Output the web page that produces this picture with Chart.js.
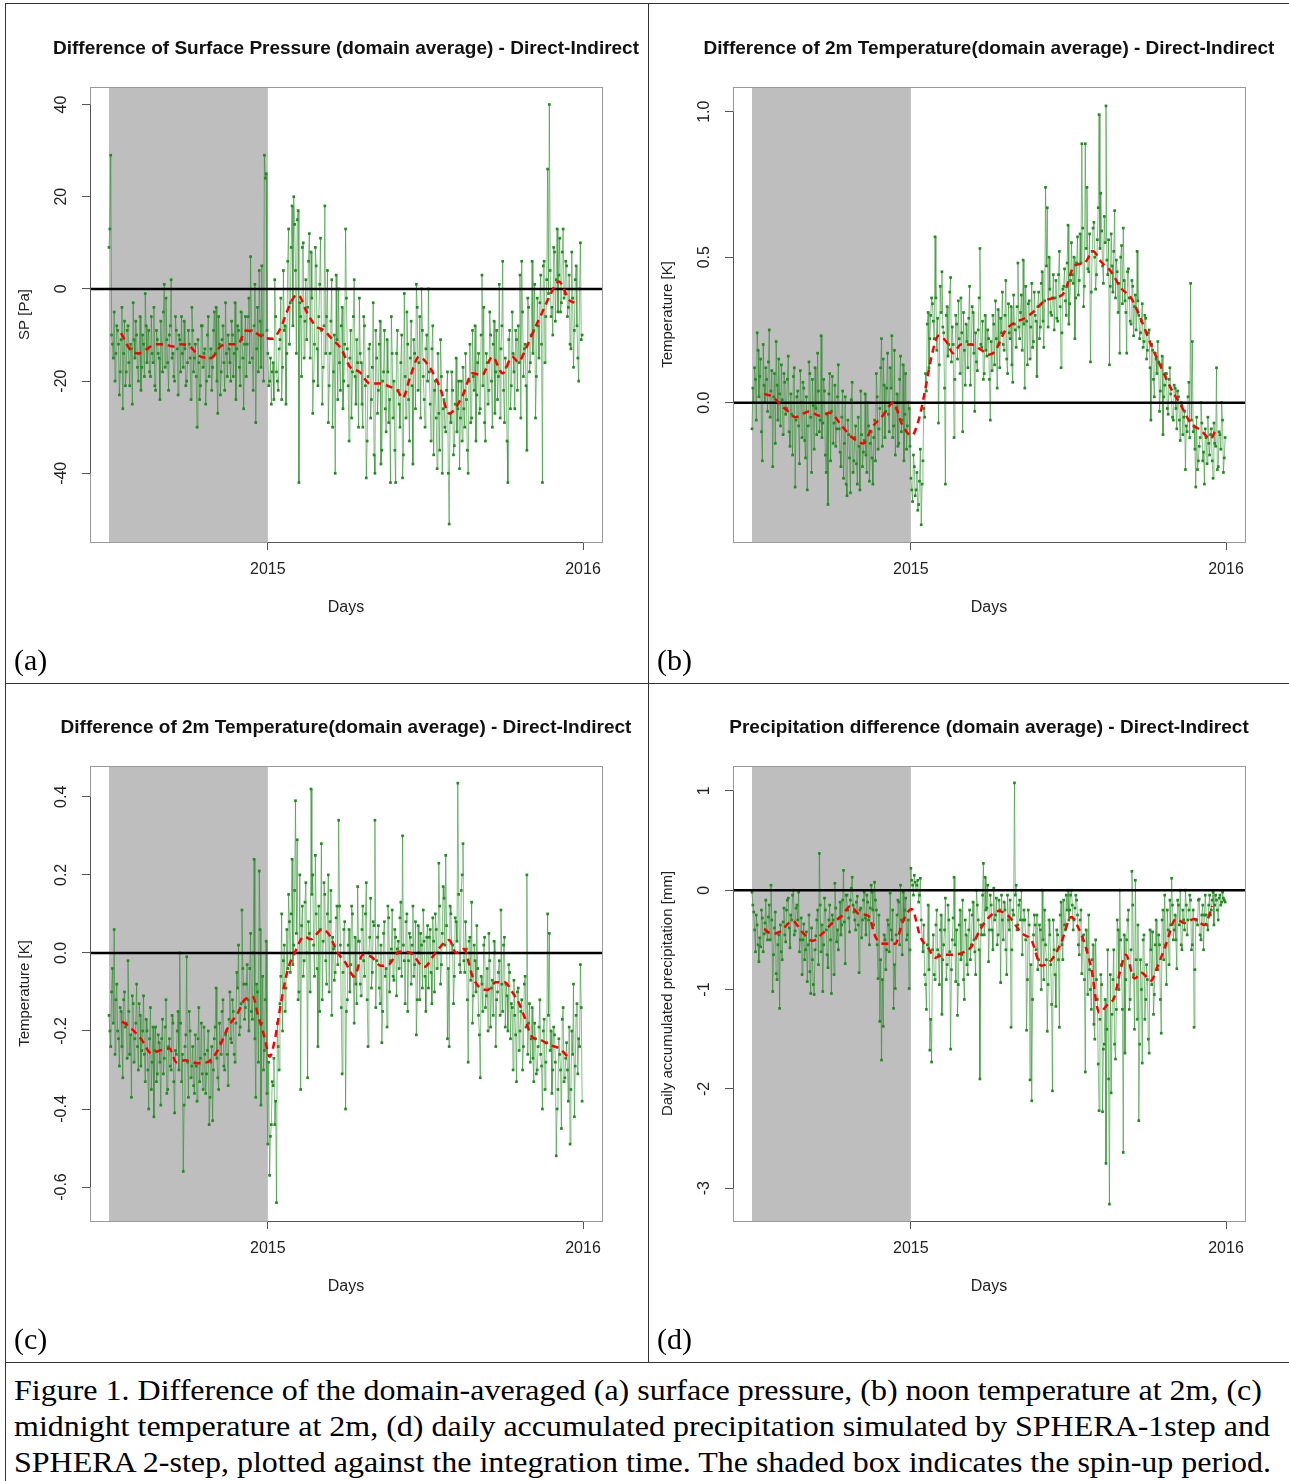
<!DOCTYPE html>
<html><head><meta charset="utf-8">
<script src="https://cdn.jsdelivr.net/npm/chart.js@4.4.1/dist/chart.umd.min.js"></script>
<style>
body{margin:0;background:#fff;width:1289px;height:1481px;position:relative;overflow:hidden;}
canvas{position:absolute;}
.ln{position:absolute;background:#333;}
.lab{position:absolute;font-family:"Liberation Serif","Times New Roman",serif;font-size:30px;line-height:36px;color:#000;white-space:nowrap;}
.cap{position:absolute;left:14px;font-family:"Liberation Serif","Times New Roman",serif;font-size:30px;line-height:36px;color:#000;white-space:nowrap;transform-origin:0 0;}
</style></head><body>
<div class="ln" style="left:5px;top:3px;width:1284px;height:1px"></div>
<div class="ln" style="left:5px;top:3px;width:1px;height:1478px"></div>
<div class="ln" style="left:648px;top:3px;width:1px;height:1359px"></div>
<div class="ln" style="left:5px;top:683px;width:1284px;height:1px"></div>
<div class="ln" style="left:5px;top:1362px;width:1284px;height:1px"></div>
<canvas id="ca" width="641" height="678" style="left:6px;top:4px"></canvas>
<canvas id="cb" width="640" height="678" style="left:649px;top:4px"></canvas>
<canvas id="cc" width="641" height="677" style="left:6px;top:684px"></canvas>
<canvas id="cd" width="640" height="677" style="left:649px;top:684px"></canvas>
<div class="lab" style="left:14px;top:642px">(a)</div>
<div class="lab" style="left:657px;top:642px">(b)</div>
<div class="lab" style="left:14px;top:1321px">(c)</div>
<div class="lab" style="left:657px;top:1321px">(d)</div>
<div class="cap" data-w="1248" style="top:1372px">Figure 1. Difference of the domain-averaged (a) surface pressure, (b) noon temperature at 2m, (c)</div>
<div class="cap" data-w="1256" style="top:1408px">midnight temperature at 2m, (d) daily accumulated precipitation simulated by SPHERA-1step and</div>
<div class="cap" data-w="1257" style="top:1444px">SPHERA 2-step, plotted against the integration time. The shaded box indicates the spin-up period.</div>
<script>
// ---------- DATA ----------
// Days are counted relative to 1 Jan 2015 (day 0). Series are daily, stored as
// even-day values (days -184, -182, ...) and odd-day values (days -183, -181, ...).
const START_DAY = -184;
const SPIN_START = -184, SPIN_END = 0;
const X_MIN = -206, X_MAX = 387;
const xTickVals = [0, 365];
const xTickLabels = ['2015', '2016'];

// (a) Surface pressure difference [Pa]
const spEven = [
 9, 29, -12, -5, -14, -9, -23, -11, -26, -7,
 -18, -8, -21, -13, -3, -15, -10, -20, -6, -17,
 -12, -1, -16, -9, -19, -14, -4, -22, -11, -15,
 -7, -18, 1, -2, -16, -10, 2, -14, -20, -9,
 -23, -11, -6, -17, -13, -20, -9, -15, -4, -18,
 -12, -30, -16, -21, -8, -14, -25, -10, -19, -13,
 -17, -5, -4, -27, -12, -18, -8, -22, -14, -10,
 -16, -7, -19, -3, -13, -9, -21, -11, -26, -6,
 -12, -2, 7, -15, -8, -29, -4, 4, -17, -10,
 29, 25, -14, -20, -25,
 -16, 2, -18, -22, -11, -24, 4, -8, -14, 13,
 -3, 18, 20, 4, 15, -42, -6, 9, -15, 2,
 -4, 12, 8, -27, -12, 5, -21, 1, -9, -17,
 18, -6, -29, -14, 2, -18, -40, -11, 0, -22,
 -4, -20, 13, -13, -33, -9, -18, 2, -25, -16,
 -2, -16, -30, -8, -41, -19, -12, -24, -3, -40,
 -15, -22, -7, -35, -18, -26, -11, -29, -42, -14,
 -20, -42, -9, -25, -16, -41, -1, -28, -12, -33,
 -7, -38, -14, 1, -22, -6, 0, -19, -30, -10,
 0, -25, -13, -36, -20, -39, -27, -11, -40, -24,
 -31, -18, -51, -29, -22, -34, -15, -26, -39, -20,
 -17, -30, -24, -40, -12, -28, -19, -8, -23, -14,
 -26, 3, -4, -33, -16, -22, -10, -30, -7, -18,
 -24, 1, -13, 6, -29, -17, -42, -9, -21, -14,
 -26, -11, -8, 3, 6, -19, -12, -35, -4, -16,
 6, -9, -28, -2, -15, 3, -42, 6, -6, 26,
 40, -6, -10, 8, 2, -5, 11, -3, 13, -1,
 5, -4, -12, 8, -17, 2, -8, -20, 10, -10
];
const spOdd = [
 13, -10, -15, -20, -8, -12, -18, -4, -14, -21,
 -9, -16, -12, -25, -11, -7, -17, -14, -22, -10,
 -19, -8, -13, -18, -6, -16, -21, -9, -14, -24,
 -12, -5, -17, -11, -22, -8, -15, -19, -6, -13,
 -10, -18, -14, -7, -21, -16, -12, -24, -9, -15,
 -19, -11, -24, -8, -17, -13, -20, -6, -15, -22,
 -9, -14, -20, -6, -23, -11, -16, -3, -19, -13,
 -20, -10, -14, -24, -8, -17, -5, -15, -12, -19,
 -6, -16, -9, -22, 1, -13, -18, -7, 5, -20,
 24, -9, -21, -15, -18,
 -24, -6, -20, -13, -2, -17, -9, -25, 6, -12,
 9, -8, 14, -14, 17, -3, -19, 10, -7, -11,
 6, -15, -2, -20, 9, -13, -6, 11, -25, -8,
 -14, 4, -21, -7, -30, -10, 3, -24, -16, -8,
 -26, -12, -2, -21, -15, -28, -6, -19, -11, -30,
 -14, -25, -6, -21, -33, -13, -28, -17, -36, -9,
 -27, -12, -38, -20, -9, -31, -18, -24, -6, -28,
 -35, -14, -22, -30, -10, -36, -19, -5, -24, -15,
 -21, -11, -26, -4, -16, -28, -9, -24, -13, -20,
 -18, -33, -8, -22, -28, -14, -35, -19, -26, -30,
 -22, -40, -27, -18, -36, -25, -31, -20, -28, -33,
 -26, -14, -35, -20, -29, -9, -22, -33, -16, -27,
 -10, -21, -29, -14, -25, -5, -20, -12, -27, -9,
 -19, -28, -8, -22, -15, -33, -11, -26, -5, -18,
 -9, -22, -16, -28, -5, -13, -21, -2, -18, -10,
 -14, 1, -19, -8, -3, -12, 5, -16, 2, -1,
 4, -4, 9, -7, 13, 3, -5, 8, -2, 6,
 -6, 3, -13, -2, -9, 5, -15, 0, -11
];
const spTrendDays = [-170,-160,-150,-140,-130,-120,-110,-100,-90,-80,-66,-55,-45,-35,-25,-15,-5,5,15,22,30,35,45,55,65,75,85,95,106,118,130,141,150,156,165,175,187,199,210,225,237,248,260,272,283,290,299,310,318,326,337,349,355];
const spTrend = [-9.6,-13,-14,-13,-12,-12,-12.5,-12,-12.5,-14.5,-15,-12.5,-12,-12,-9,-9.5,-10.5,-10.8,-8.4,-5,-1.8,-1.3,-5,-8,-9,-11,-13,-16.9,-18,-20.5,-20.5,-21.2,-22,-23.7,-19,-14.7,-16.9,-21.2,-27,-23.4,-18.3,-18.7,-14.7,-18.3,-14.7,-15.8,-12.9,-8.2,-5,-1.7,1.6,-2.4,-3];

// (b) Noon 2m temperature difference [K]
const t2NoonEven = [
 -0.09, 0.0, 0.08, 0.24, 0.02, 0.15, -0.2, 0.06, 0.12, -0.03,
 0.25, 0.04, -0.22, 0.1, 0.21, -0.06, 0.03, 0.13, -0.11, 0.07,
 -0.02, 0.16, -0.15, -0.04, 0.09, -0.29, 0.02, -0.08, 0.11, -0.12,
 0.05, -0.19, -0.3, 0.14, -0.05, 0.08, -0.16, -0.02, 0.17, -0.1,
 0.23, -0.07, 0.04, -0.24, -0.35, 0.1, -0.03, -0.14, 0.06, -0.09,
 0.13, -0.17, -0.05, -0.26, 0.02, -0.32, -0.11, -0.31, 0.07, -0.2,
 -0.08, -0.28, -0.15, 0.04, -0.22, -0.13, -0.18, 0.0, -0.27, -0.1,
 -0.28, -0.06, 0.1, -0.16, -0.02, 0.22, 0.15, -0.12, 0.05, -0.04,
 0.12, 0.23, -0.08, -0.18, 0.03, -0.14, 0.16, -0.06, -0.2, 0.1,
 -0.08, -0.02, -0.26, -0.34, -0.22,
 -0.3, -0.37, -0.27, -0.42, -0.2, -0.05, 0.04, 0.31, 0.22, 0.36,
 0.28, 0.57, 0.18, -0.07, 0.4, 0.45, 0.24, -0.28, 0.33, 0.2,
 0.43, 0.26, -0.12, 0.3, 0.15, 0.22, 0.36, -0.1, 0.18, 0.27,
 0.12, 0.4, 0.2, 0.31, -0.03, 0.14, 0.25, 0.53, 0.19, 0.08,
 0.3, 0.16, 0.22, -0.06, 0.11, 0.27, 0.35, 0.05, 0.2, 0.29,
 0.38, 0.18, 0.42, 0.1, 0.24, 0.33, 0.07, 0.27, 0.19, 0.48,
 0.22, 0.37, 0.49, 0.05, 0.28, 0.34, 0.15, 0.41, 0.21, 0.3,
 0.09, 0.38, 0.26, 0.45, 0.19, 0.74, 0.67, 0.5, 0.31, 0.36,
 0.25, 0.42, 0.28, 0.52, 0.12, 0.39, 0.46, 0.3, 0.61, 0.34,
 0.55, 0.41, 0.22, 0.48, 0.37, 0.58, 0.89, 0.33, 0.89, 0.74,
 0.45, 0.14, 0.52, 0.62, 0.39, 0.56, 0.99, 0.72, 0.47, 0.64,
 1.02, 0.44, 0.13, 0.58, 0.38, 0.66, 0.49, 0.31, 0.17, 0.54,
 0.6, 0.35, 0.17, 0.46, 0.28, 0.42, 0.23, 0.37, 0.52, 0.3,
 0.24, 0.34, 0.21, 0.29, 0.18, 0.25, -0.06, 0.18, 0.02, 0.15,
 0.21, -0.03, 0.13, -0.11, 0.06, 0.1, -0.04, 0.12, 0.0, -0.06,
 0.05, -0.09, 0.02, -0.13, -0.01, -0.05, -0.23, -0.1, 0.07, 0.41,
 0.21, -0.08, -0.29, -0.23, -0.15, 0.0, -0.2, -0.28, -0.12, -0.05,
 -0.18, -0.09, -0.26, -0.14, 0.12, -0.22, -0.11, 0.0, -0.24, -0.12
];
const t2NoonOdd = [
 0.05, 0.12, -0.06, 0.18, 0.09, -0.1, 0.2, 0.0, 0.08, 0.14,
 -0.05, 0.11, 0.02, -0.14, 0.06, 0.15, -0.08, 0.01, 0.1, -0.04,
 0.08, -0.1, 0.03, -0.18, 0.12, -0.06, 0.04, -0.21, 0.0, 0.07,
 -0.13, 0.02, -0.08, 0.1, -0.24, -0.01, 0.12, -0.11, 0.04, -0.06,
 -0.12, 0.08, -0.18, -0.04, 0.03, -0.2, 0.09, -0.07, -0.15, 0.02,
 -0.09, -0.22, 0.04, -0.14, -0.28, -0.06, -0.19, 0.01, -0.24, -0.12,
 -0.21, -0.05, -0.3, -0.11, -0.17, 0.03, -0.24, -0.08, -0.14, -0.19,
 -0.12, -0.2, 0.02, -0.09, 0.12, -0.15, 0.06, -0.03, 0.17, -0.1,
 0.05, -0.12, 0.18, -0.02, -0.15, 0.08, -0.1, 0.13, -0.04, -0.16,
 0.0, -0.15, -0.3, -0.18, -0.32,
 -0.24, -0.35, -0.16, -0.28, -0.02, 0.1, 0.27, 0.12, 0.3, 0.34,
 0.22, 0.36, 0.29, 0.13, 0.31, 0.26, 0.05, 0.3, 0.16, 0.38,
 0.14, 0.2, 0.08, 0.27, 0.35, 0.1, 0.24, 0.31, 0.06, 0.21,
 0.29, 0.06, 0.33, 0.17, 0.24, 0.11, 0.36, 0.2, 0.28, 0.1,
 0.18, 0.25, 0.08, 0.21, 0.3, 0.13, 0.22, 0.32, 0.12, 0.24,
 0.2, 0.3, 0.15, 0.34, 0.22, 0.13, 0.37, 0.25, 0.33, 0.26,
 0.31, 0.18, 0.27, 0.4, 0.13, 0.35, 0.26, 0.19, 0.38, 0.28,
 0.33, 0.22, 0.41, 0.28, 0.35, 0.47, 0.26, 0.39, 0.3, 0.44,
 0.36, 0.29, 0.44, 0.33, 0.24, 0.4, 0.35, 0.48, 0.27, 0.42,
 0.44, 0.5, 0.36, 0.57, 0.42, 0.48, 0.6, 0.4, 0.53, 0.46,
 0.58, 0.38, 0.6, 0.5, 0.44, 0.67, 0.53, 0.59, 0.41, 0.55,
 0.49, 0.56, 0.4, 0.47, 0.52, 0.36, 0.45, 0.41, 0.5, 0.34,
 0.42, 0.31, 0.45, 0.36, 0.27, 0.4, 0.33, 0.25, 0.35, 0.22,
 0.28, 0.19, 0.3, 0.15, 0.24, 0.12, 0.2, 0.08, 0.17, 0.1,
 0.14, 0.04, 0.16, 0.02, 0.1, -0.02, 0.08, 0.03, -0.05, 0.06,
 -0.02, 0.04, -0.06, 0.0, -0.11, -0.03, -0.08, 0.02, -0.12, -0.06,
 -0.1, -0.16, -0.05, -0.2, -0.12, -0.07, -0.17, -0.09, -0.21, -0.14,
 -0.11, -0.2, -0.07, -0.15, -0.23, -0.1, -0.16, -0.06, -0.19
];
const t2NoonTrendDays = [-170,-160,-150,-142,-134,-118,-106,-94,-80,-68,-55,-45,-34,-20,-11,1,9,17,24,32,41,49,58,70,82,90,97,109,120,132,143,155,166,178,189,201,211,220,232,243,255,266,278,290,301,313,324,336,347,352];
const t2NoonTrend = [0.03,0.02,-0.01,-0.03,-0.05,-0.03,-0.045,-0.035,-0.08,-0.12,-0.14,-0.085,-0.05,0.0,-0.07,-0.113,-0.06,0.05,0.16,0.23,0.21,0.17,0.2,0.2,0.18,0.165,0.175,0.246,0.275,0.29,0.315,0.35,0.36,0.38,0.47,0.48,0.52,0.485,0.45,0.395,0.36,0.29,0.2,0.12,0.05,-0.01,-0.07,-0.095,-0.125,-0.1];

// (c) Midnight 2m temperature difference [K]
const t2MidEven = [
 -0.16, -0.24, -0.04, 0.06, -0.12, -0.2, -0.29, -0.15, -0.32, -0.1,
 -0.18, -0.02, -0.26, -0.37, -0.13, -0.22, -0.08, -0.3, -0.16, -0.25,
 -0.11, -0.33, -0.2, -0.4, -0.14, -0.28, -0.42, -0.19, -0.31, -0.23,
 -0.39, -0.17, -0.27, -0.12, -0.35, -0.22, -0.3, -0.18, -0.41, -0.26,
 -0.15, 0.0, -0.33, -0.56, -0.24, -0.01, -0.37, -0.2, -0.29, -0.34,
 -0.21, -0.38, -0.14, -0.27, -0.31, -0.19, -0.36, -0.25, -0.44, -0.28,
 -0.43, -0.22, -0.09, -0.32, -0.18, -0.26, -0.12, -0.3, -0.2, -0.34,
 -0.1, -0.23, -0.15, -0.28, -0.05, 0.02, -0.19, 0.11, -0.08, -0.14,
 -0.03, -0.2, 0.05, -0.17, 0.24, -0.37, -0.1, 0.21, -0.39, -0.06,
 -0.25, 0.03, -0.49, -0.57, -0.44,
 -0.34, -0.44, -0.64, -0.24, -0.13, 0.1, -0.02, -0.15, 0.06, 0.15,
 -0.05, 0.24, 0.02, 0.39, 0.29, -0.1, -0.35, 0.12, -0.02, 0.18,
 -0.32, 0.05, 0.42, 0.2, -0.06, 0.1, -0.24, -0.15, 0.28, 0.03,
 0.15, -0.08, 0.2, 0.08, -0.16, 0.01, -0.05, 0.12, 0.34, 0.02,
 -0.31, 0.06, -0.4, -0.12, 0.06, -0.03, 0.1, -0.18, -0.08, 0.17,
 0.03, -0.11, 0.12, -0.06, 0.18, -0.24, 0.04, -0.09, 0.08, 0.34,
 -0.02, 0.07, -0.13, -0.23, 0.05, -0.06, -0.19, 0.09, -0.02, 0.11,
 -0.07, 0.04, 0.01, -0.04, 0.13, 0.3, -0.02, 0.08, -0.15, 0.05,
 -0.08, 0.12, -0.03, -0.21, 0.07, -0.12, 0.02, 0.11, -0.06, 0.04,
 -0.09, 0.06, -0.13, 0.03, 0.1, -0.04, 0.23, -0.08, 0.05, 0.14,
 0.25, -0.22, -0.24, 0.1, 0.02, -0.06, 0.08, 0.435, -0.03, 0.16,
 0.28, -0.05, 0.01, -0.28, 0.04, 0.13, -0.11, -0.02, 0.07, -0.16,
 -0.32, -0.08, 0.02, -0.14, -0.04, 0.05, -0.19, -0.07, 0.03, -0.24,
 -0.1, -0.02, 0.11, -0.15, 0.04, -0.08, -0.2, -0.05, -0.13, -0.3,
 -0.16, -0.33, -0.09, -0.2, -0.12, -0.24, -0.06, 0.2, -0.18, -0.28,
 -0.14, -0.33, -0.22, -0.3, -0.19, -0.26, -0.4, -0.17, -0.28, 0.1,
 0.05, -0.2, -0.3, -0.21, -0.52, -0.35, -0.26, -0.45, -0.14, -0.32,
 -0.23, -0.38, -0.49, -0.2, -0.08, -0.29, -0.13, -0.22, -0.03, -0.38
];
const t2MidOdd = [
 -0.2, -0.1, -0.18, -0.26, -0.08, -0.22, -0.14, -0.24, -0.12, -0.19,
 -0.27, -0.15, -0.21, -0.11, -0.28, -0.18, -0.24, -0.13, -0.29, -0.2,
 -0.26, -0.17, -0.3, -0.22, -0.35, -0.19, -0.25, -0.33, -0.21, -0.28,
 -0.22, -0.31, -0.19, -0.36, -0.24, -0.29, -0.16, -0.33, -0.25, -0.2,
 -0.3, -0.18, -0.26, -0.39, -0.21, -0.28, -0.15, -0.32, -0.24, -0.36,
 -0.29, -0.22, -0.33, -0.18, -0.35, -0.26, -0.31, -0.2, -0.37, -0.24,
 -0.3, -0.19, -0.27, -0.35, -0.23, -0.15, -0.29, -0.21, -0.26, -0.17,
 -0.22, -0.12, -0.26, -0.18, -0.09, -0.21, -0.13, -0.04, -0.17, -0.08,
 -0.12, -0.04, -0.15, 0.0, -0.22, -0.08, -0.28, 0.06, -0.18, -0.3,
 -0.12, -0.36, -0.28, -0.47, -0.33,
 -0.27, -0.38, -0.18, -0.3, -0.06, -0.2, 0.02, -0.09, -0.04, 0.08,
 0.1, -0.03, 0.16, 0.05, -0.12, 0.2, 0.07, -0.06, 0.13, 0.0,
 0.08, -0.1, 0.15, 0.02, 0.25, -0.04, 0.12, 0.06, -0.12, 0.18,
 -0.02, 0.1, -0.1, 0.16, 0.04, -0.07, 0.09, -0.03, 0.12, -0.14,
 -0.05, 0.08, -0.15, 0.02, -0.1, 0.12, -0.06, 0.04, -0.13, 0.03,
 -0.08, 0.06, -0.02, 0.1, -0.12, 0.0, 0.14, -0.05, 0.07, -0.14,
 0.04, -0.09, 0.02, -0.15, 0.08, -0.04, 0.12, -0.1, 0.01, -0.06,
 0.06, -0.11, 0.03, 0.09, -0.06, 0.02, -0.13, 0.1, -0.02, 0.04,
 0.02, -0.06, 0.08, -0.12, 0.0, 0.05, -0.09, 0.03, -0.15, 0.07,
 0.04, -0.05, 0.09, -0.1, 0.06, 0.0, 0.12, -0.03, 0.17, 0.02,
 0.07, -0.04, 0.12, 0.0, -0.13, 0.09, 0.03, 0.15, -0.05, 0.2,
 -0.02, 0.08, -0.12, 0.03, -0.07, -0.18, 0.02, -0.1, -0.04, -0.21,
 -0.06, -0.15, 0.04, -0.11, -0.2, -0.02, -0.09, -0.16, 0.0, -0.12,
 -0.05, -0.16, -0.08, 0.02, -0.19, -0.11, -0.03, -0.22, -0.14, -0.07,
 -0.21, -0.1, -0.25, -0.15, -0.3, -0.08, -0.19, -0.26, -0.13, -0.22,
 -0.27, -0.18, -0.31, -0.24, -0.12, -0.29, -0.2, -0.35, -0.23, -0.16,
 -0.25, -0.36, -0.19, -0.28, -0.4, -0.22, -0.3, -0.17, -0.33, -0.27,
 -0.3, -0.19, -0.35, -0.26, -0.42, -0.16, -0.31, -0.24, -0.14
];
const t2MidTrendDays = [-169,-160,-146,-135,-125,-114,-106,-96,-81,-70,-58,-46,-35,-27,-17,-12,-4,2,8,15,23,31,42,50,62,70,81,90,100,110,120,131,140,152,165,181,194,210,218,227,237,244,254,264,274,283,291,297,306,316,326,337,349];
const t2MidTrend = [-0.176,-0.19,-0.223,-0.257,-0.25,-0.245,-0.28,-0.275,-0.283,-0.28,-0.25,-0.19,-0.155,-0.12,-0.113,-0.155,-0.215,-0.266,-0.223,-0.13,-0.044,0.0,0.042,0.035,0.059,0.05,0.0,-0.025,-0.06,-0.005,-0.01,-0.033,-0.03,0.003,0.0,-0.036,0.0,0.033,0.0,0.01,-0.06,-0.086,-0.095,-0.075,-0.075,-0.1,-0.13,-0.163,-0.215,-0.223,-0.236,-0.244,-0.27];

// (d) Daily accumulated precipitation difference [mm]
const precipEven = [
 -0.02, -0.22, -0.62, -0.35, -0.72, -0.57, -0.28, -0.44, -0.1, -0.5,
 -0.15, 0.05, -1.02, -0.38, -0.84, -0.55, -1.19, -0.62, -0.32, -0.45,
 -0.2, -0.08, -0.58, -0.3, 0.0, -0.41, -0.15, -0.02, -0.5, -0.85,
 -0.34, -0.6, -0.92, -0.25, -1.04, -0.7, -1.05, -0.46, -0.2, 0.37,
 -0.62, -1.02, -0.08, -0.4, -0.78, -0.15, -1.04, -0.3, 0.07, -0.52,
 -0.6, -0.12, -0.35, 0.2, -0.74, -0.05, -0.28, -0.1, 0.13, -0.22,
 -0.4, -0.06, -0.83, -0.18, -0.3, -0.02, -0.45, -0.12, -0.55, 0.05,
 -0.2, 0.08, -0.2, -0.89, -1.32, -1.71, -1.37, -0.5, -0.6, -0.35,
 -0.03, -0.5, -1.19, -0.99, -0.25, -0.12, 0.05, -0.65, -0.3, -0.08,
 -0.45, -0.99, 0.22, 0.05, 0.15,
 0.0, 0.1, -0.05, -0.3, -0.62, -0.85, -1.2, -0.15, -1.61, -1.73,
 -0.45, -0.9, -0.2, -0.65, -0.4, -1.25, -0.55, -0.08, -0.75, -0.3,
 -1.6, -0.5, 0.13, -0.92, -1.26, -0.35, -0.7, -0.1, -1.1, -0.45,
 -0.85, -0.2, -0.55, -0.12, -0.62, 0.0, -0.3, -1.9, -0.45, 0.27,
 0.13, -0.18, -0.72, -0.05, -0.4, 0.02, -0.25, -0.55, -0.1, -0.93,
 -0.3, -0.12, -0.6, -0.05, -0.4, -1.38, -0.2, 1.08, 0.05, -0.35,
 -0.1, 0.0, -0.3, -0.3, -1.41, -0.2, -1.91, -2.12, -0.45, -0.35,
 -0.25, -0.7, -0.4, 0.0, -0.9, -0.55, -1.42, -0.3, -0.75, -2.02,
 -0.6, -1.17, -0.45, -1.38, -0.12, -0.7, -0.35, -0.05, 0.0, -0.2,
 0.0, -0.4, -0.18, -0.1, -0.55, -0.3, -0.84, -0.45, -1.83, -0.6,
 -0.25, -1.0, -0.7, -1.35, -0.5, -1.1, -2.22, -0.85, -2.23, -1.55,
 -2.75, -0.6, -3.16, -2.04, -0.9, -1.55, -1.2, -0.4, 0.0, -0.75,
 -2.64, -1.64, -0.5, -0.2, -1.1, 0.19, -0.85, 0.1, -1.3, -2.32,
 -0.7, -1.74, -0.45, -1.1, -0.9, -1.64, -0.6, -0.42, -1.05, -0.3,
 -0.8, -0.55, -1.44, -0.2, -0.05, -0.95, -0.4, -0.1, 0.12, -0.5,
 -0.25, -0.79, -0.15, 0.0, -0.6, -0.3, 0.0, -0.45, -0.2, -0.1,
 -0.55, -1.38, -0.3, -0.35, -0.09, -0.5, -0.15, -0.25, -0.25, -0.4,
 -0.05, -0.2, -0.02, -0.15, -0.1, -0.3, -0.05, -0.12, -0.08, -0.12
];
const precipOdd = [
 -0.15, -0.4, -0.25, -0.55, -0.48, -0.2, -0.62, -0.33, -0.42, -0.27,
 -0.5, -0.3, -0.65, -0.22, -0.9, -0.45, -0.35, -0.7, -0.18, -0.52,
 -0.1, -0.38, -0.25, -0.05, -0.45, -0.18, -0.3, -0.62, -0.28, -0.5,
 -0.7, -0.42, -0.55, -0.82, -0.38, -0.95, -0.6, -0.3, -0.75, -0.15,
 -0.35, -0.55, -0.2, -0.65, -0.3, -0.5, -0.25, -0.85, -0.18, -0.4,
 -0.28, -0.45, -0.1, -0.32, -0.05, -0.2, -0.42, 0.02, -0.15, -0.3,
 -0.12, -0.35, -0.2, -0.48, -0.1, -0.28, -0.05, -0.3, -0.18, -0.02,
 -0.35, -0.1, -0.55, -0.25, -0.7, -0.9, -0.45, -0.8, -0.3, -0.62,
 -0.4, -0.2, -0.75, -0.45, -0.1, -0.55, -0.3, -0.02, -0.2, -0.5,
 -0.3, -0.6, 0.1, -0.05, 0.08,
 0.05, -0.12, 0.12, -0.5, -0.35, -0.95, -0.55, -0.8, -1.3, -0.6,
 -0.85, -0.35, -0.6, -0.95, -0.25, -0.7, -0.4, -0.9, -0.15, -0.62,
 -0.8, -0.28, -0.55, -0.4, -0.95, -0.2, -0.65, -0.9, -0.3, -0.75,
 -0.4, -0.7, -0.25, -0.5, -0.85, -0.15, -0.6, -0.35, -0.05, -0.45,
 -0.2, 0.05, -0.4, -0.15, -0.6, -0.3, -0.08, -0.45, -0.2, -0.05,
 -0.5, -0.2, -0.85, -0.3, -0.1, -0.6, -0.25, -0.05, -0.4, -0.15,
 -0.3, -0.65, -0.2, -0.5, -0.9, -0.35, -0.75, -1.1, -0.25, -0.6,
 -0.8, -0.35, -1.0, -0.5, -0.2, -0.7, -0.95, -0.45, -1.15, -0.3,
 -0.85, -0.4, -0.7, -0.25, -0.55, -0.1, -0.4, -0.2, -0.3, -0.05,
 -0.15, -0.3, -0.05, -0.25, -0.65, -0.2, -0.5, -0.9, -0.4, -1.05,
 -0.8, -1.2, -0.55, -1.5, -0.9, -1.75, -1.3, -0.95, -1.6, -1.1,
 -1.4, -1.9, -0.85, -1.25, -0.6, -1.7, -0.3, -1.0, -0.5, -1.2,
 -0.45, -0.9, -0.3, -1.2, -0.6, -0.15, -1.4, -0.7, -0.35, -1.55,
 -1.0, -0.5, -1.3, -0.75, -1.5, -0.4, -0.95, -1.25, -0.55, -0.8,
 -0.45, -1.1, -0.3, -0.7, -0.55, -0.2, -0.75, -0.35, -0.15, -0.4,
 -0.5, -0.1, -0.35, -0.55, -0.2, -0.4, -0.15, -0.3, -0.05, -0.6,
 -0.2, -0.8, -0.3, -0.1, -0.45, -0.25, -0.6, -0.05, -0.35, -0.15,
 -0.25, -0.1, -0.35, -0.05, -0.2, -0.08, -0.15, -0.02, -0.1
];
const precipTrendDays = [-170,-161,-152,-137,-126,-114,-103,-91,-80,-70,-60,-49,-41,-30,-18,-10,1,11,20,28,38,49,62,70,80,85,92,101,113,128,140,151,163,174,186,193,201,209,218,228,236,243,249,259,267,278,286,295,307,317,328,340,349];
const precipTrend = [-0.39,-0.44,-0.42,-0.31,-0.42,-0.51,-0.44,-0.33,-0.26,-0.16,-0.24,-0.26,-0.47,-0.54,-0.54,-0.33,-0.19,-0.47,-0.58,-0.68,-0.65,-0.65,-0.62,-0.57,-0.4,-0.33,-0.26,-0.21,-0.26,-0.43,-0.51,-0.76,-0.7,-0.53,-0.27,-0.36,-0.53,-0.79,-1.23,-1.15,-1.07,-0.79,-0.65,-0.89,-0.83,-0.91,-0.76,-0.56,-0.29,-0.33,-0.29,-0.35,-0.16];

// ---------- CHART ----------
const FONT = '"Liberation Sans", Arial, Helvetica, sans-serif';

// merge even-day and odd-day readings into one daily series, in day order
function dailyPoints(even, odd) {
  const pts = [];
  even.forEach((v, i) => {
    pts.push({x: START_DAY + 2 * i, y: v});
    if (i < odd.length) pts.push({x: START_DAY + 2 * i + 1, y: odd[i]});
  });
  return pts;
}

function yPad(labels) {
  const c = document.createElement('canvas').getContext('2d');
  c.font = '16px ' + FONT;
  const w = Math.max(...labels.map(l => c.measureText(l).width));
  return 20 - w / 2;
}

const rStyle = {
  id: 'rStyle',
  afterLayout(chart) {
    const ca = chart.chartArea, tb = chart.titleBlock;
    if (tb) { const cx = (ca.left + ca.right) / 2; tb.left = cx - 330; tb.right = cx + 330; tb.width = 660; }
  },
  beforeDatasetsDraw(chart) {
    const {ctx, chartArea: ca, scales: {x}} = chart;
    ctx.save();
    ctx.fillStyle = '#bebebe';
    const x0 = x.getPixelForValue(SPIN_START), x1 = x.getPixelForValue(SPIN_END);
    ctx.fillRect(x0, ca.top, x1 - x0, ca.bottom - ca.top);
    ctx.restore();
  },
  afterDatasetsDraw(chart) {
    const {ctx, chartArea: ca, scales: {x, y}} = chart;
    ctx.save();
    ctx.strokeStyle = '#9a9a9a'; ctx.lineWidth = 1;
    ctx.strokeRect(Math.round(ca.left) + 0.5, Math.round(ca.top) + 0.5, Math.round(ca.right - ca.left), Math.round(ca.bottom - ca.top));
    ctx.strokeStyle = '#555';
    const yt = y.ticks.map(t => y.getPixelForValue(t.value));
    ctx.beginPath();
    ctx.moveTo(Math.round(ca.left) + 0.5, Math.min(...yt)); ctx.lineTo(Math.round(ca.left) + 0.5, Math.max(...yt));
    const xt = x.ticks.map(t => x.getPixelForValue(t.value));
    ctx.moveTo(Math.min(...xt), Math.round(ca.bottom) + 0.5); ctx.lineTo(Math.max(...xt), Math.round(ca.bottom) + 0.5);
    ctx.stroke();
    ctx.restore();
  }
};

function makeChart(id, cfg) {
  const canvas = document.getElementById(id);
  const W = canvas.width, H = canvas.height;
  const top = cfg.plotTop, bottom = cfg.plotBottom;
  new Chart(canvas, {
    type: 'line',
    data: {
      datasets: [
        { data: cfg.trendDays.map((d, i) => ({x: d, y: cfg.trend[i]})), borderColor: '#ff0000', borderWidth: 2.5,
          borderDash: [7, 5], pointRadius: 0, cubicInterpolationMode: 'monotone', fill: false },
        { data: [{x: X_MIN, y: 0}, {x: X_MAX, y: 0}], borderColor: '#000', borderWidth: 2.5, pointRadius: 0, fill: false },
        { data: dailyPoints(cfg.even, cfg.odd), borderColor: 'rgba(34,139,34,0.55)', borderWidth: 1,
          pointStyle: 'rect', pointRadius: 1.9, pointBackgroundColor: '#228b22', pointBorderWidth: 0, tension: 0, fill: false }
      ]
    },
    options: {
      responsive: false, animation: false, devicePixelRatio: 1, events: [],
      layout: { padding: { left: 0, top: 0, right: W - 596, bottom: H - bottom - 90 } },
      plugins: {
        legend: { display: false }, tooltip: { enabled: false },
        title: { display: true, text: cfg.title, color: '#111',
          font: { family: FONT, size: 19, weight: 'bold', lineHeight: 1.2 },
          padding: { top: cfg.titleY - 11.4, bottom: top - (cfg.titleY - 11.4) - 22.8 } }
      },
      scales: {
        x: { type: 'linear', min: X_MIN, max: X_MAX,
          afterBuildTicks: s => { s.ticks = xTickVals.map(v => ({value: v})); },
          afterFit: s => { s.height = 90; },
          ticks: { callback: v => xTickLabels[xTickVals.indexOf(v)], color: '#222', font: { family: FONT, size: 16 }, padding: 10.4, maxRotation: 0, minRotation: 0 },
          grid: { drawOnChartArea: false, drawTicks: true, tickLength: 8, color: '#555' },
          border: { display: false },
          title: { display: true, text: 'Days', color: '#222', font: { family: FONT, size: 16, lineHeight: 1.2 }, padding: { top: 0, bottom: 14.4 } } },
        y: { type: 'linear', min: cfg.yMin, max: cfg.yMax,
          afterBuildTicks: s => { s.ticks = cfg.yTicks.map(v => ({value: v})); },
          afterFit: s => { s.width = 84; },
          ticks: { callback: v => cfg.yLabels[cfg.yTicks.indexOf(v)], color: '#222', font: { family: FONT, size: 16 },
            minRotation: 90, maxRotation: 90, crossAlign: 'center', padding: yPad(cfg.yLabels) },
          grid: { drawOnChartArea: false, drawTicks: true, tickLength: 8, color: '#555' },
          border: { display: false },
          title: { display: true, text: cfg.yTitle, color: '#222', font: { family: FONT, size: 15, lineHeight: 1.2 }, padding: { top: 10, bottom: 0 } } }
      }
    },
    plugins: [rStyle]
  });
}

makeChart('ca', { title: 'Difference of Surface Pressure (domain average) - Direct-Indirect', titleY: 45, plotTop: 83, plotBottom: 538,
  even: spEven, odd: spOdd, trendDays: spTrendDays, trend: spTrend, yMin: -54.9, yMax: 43.8,
  yTicks: [-40, -20, 0, 20, 40], yLabels: ['-40', '-20', '0', '20', '40'], yTitle: 'SP [Pa]' });
makeChart('cb', { title: 'Difference of 2m Temperature(domain average) - Direct-Indirect', titleY: 45, plotTop: 83, plotBottom: 538,
  even: t2NoonEven, odd: t2NoonOdd, trendDays: t2NoonTrendDays, trend: t2NoonTrend, yMin: -0.479, yMax: 1.085,
  yTicks: [0, 0.5, 1], yLabels: ['0.0', '0.5', '1.0'], yTitle: 'Temperature [K]' });
makeChart('cc', { title: 'Difference of 2m Temperature(domain average) - Direct-Indirect', titleY: 44, plotTop: 82, plotBottom: 537,
  even: t2MidEven, odd: t2MidOdd, trendDays: t2MidTrendDays, trend: t2MidTrend, yMin: -0.687, yMax: 0.479,
  yTicks: [-0.6, -0.4, -0.2, 0, 0.2, 0.4], yLabels: ['-0.6', '-0.4', '-0.2', '0.0', '0.2', '0.4'], yTitle: 'Temperature [K]' });
makeChart('cd', { title: 'Precipitation difference (domain average) - Direct-Indirect', titleY: 44, plotTop: 82, plotBottom: 537,
  even: precipEven, odd: precipOdd, trendDays: precipTrendDays, trend: precipTrend, yMin: -3.33, yMax: 1.25,
  yTicks: [-3, -2, -1, 0, 1], yLabels: ['-3', '-2', '-1', '0', '1'], yTitle: 'Daily accumulated precipitation [mm]' });

document.querySelectorAll('.cap').forEach(el => {
  const w = el.getBoundingClientRect().width;
  el.style.transform = 'scaleX(' + (parseFloat(el.dataset.w) / w) + ')';
});
</script>
</body></html>
